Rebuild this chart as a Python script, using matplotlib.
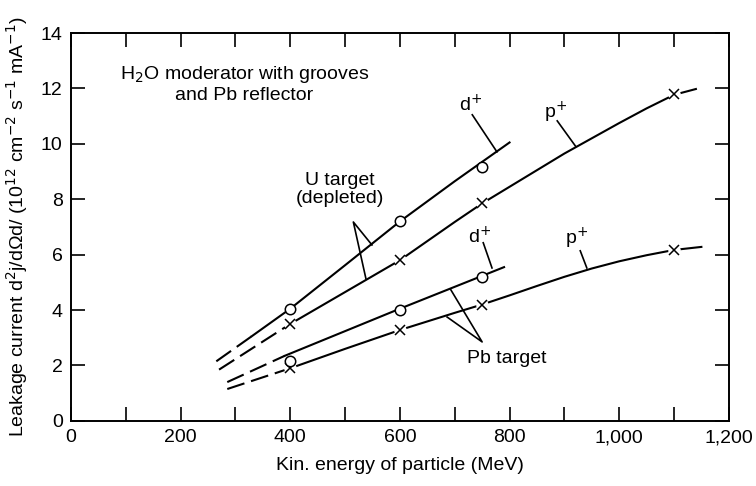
import matplotlib
matplotlib.use("Agg")
from matplotlib import pyplot as plt
from matplotlib.ticker import MultipleLocator, FuncFormatter

plt.rcParams['font.family'] = ['Liberation Sans', 'DejaVu Sans']
plt.rcParams['lines.scale_dashes'] = False

# Measured points (MeV, 10^12 cm^-2 s^-1 mA^-1)
u_d_x = [400, 600, 750]
u_d_y = [4.05, 7.2, 9.15]
u_p_x = [400, 600, 750, 1100]
u_p_y = [3.5, 5.8, 7.85, 11.8]
pb_d_x = [400, 600, 750]
pb_d_y = [2.15, 4.0, 5.18]
pb_p_x = [400, 600, 750, 1100]
pb_p_y = [1.9, 3.28, 4.2, 6.18]

# Drawn curves (solid part)
u_d_curve_x = [330, 400, 500, 600, 700, 800]
u_d_curve_y = [3.06, 4.05, 5.62, 7.2, 8.65, 10.05]
u_p_curve_x = [400, 500, 600, 700, 750, 800, 850, 900, 950, 1000, 1050, 1100, 1140]
u_p_curve_y = [3.5, 4.65, 5.8, 7.18, 7.85, 8.45, 9.05, 9.65, 10.2, 10.75, 11.28, 11.77, 11.98]
pb_d_curve_x = [390, 600, 790]
pb_d_curve_y = [2.35, 4.05, 5.55]
pb_p_curve_x = [400, 500, 600, 700, 750, 800, 850, 900, 950, 1000, 1050, 1100, 1150]
pb_p_curve_y = [1.9, 2.6, 3.28, 3.9, 4.2, 4.53, 4.87, 5.2, 5.5, 5.76, 5.98, 6.17, 6.28]

# Extrapolated (dashed) parts
u_d_dash_x = [265, 330]
u_d_dash_y = [2.15, 3.06]
u_p_dash_x = [270, 400]
u_p_dash_y = [1.85, 3.5]
pb_d_dash_x = [285, 390]
pb_d_dash_y = [1.4, 2.35]
pb_p_dash_x = [285, 400]
pb_p_dash_y = [1.15, 1.9]

fig = plt.figure(figsize=(7.56, 4.86), dpi=100)
ax = fig.add_axes([0.094, 0.134, 0.870, 0.798])

lw = 1.5
for cx, cy in [(u_d_curve_x, u_d_curve_y), (u_p_curve_x, u_p_curve_y),
               (pb_d_curve_x, pb_d_curve_y), (pb_p_curve_x, pb_p_curve_y)]:
    ax.plot(cx, cy, color='black', lw=lw, zorder=2)
for dx, dy in [(u_d_dash_x, u_d_dash_y), (u_p_dash_x, u_p_dash_y),
               (pb_d_dash_x, pb_d_dash_y), (pb_p_dash_x, pb_p_dash_y)]:
    ax.plot(dx, dy, color='black', lw=lw, dashes=[13, 5], zorder=2)

# markers: white patch under the crosses so they break the line
for mx, my in [(u_p_x, u_p_y), (pb_p_x, pb_p_y)]:
    ax.plot(mx, my, ls='none', marker='o', ms=9, mfc='white', mec='none', zorder=3)
    ax.plot(mx, my, ls='none', marker='x', ms=6.5, mew=1.1, color='black', zorder=4)
for mx, my in [(u_d_x, u_d_y), (pb_d_x, pb_d_y)]:
    ax.plot(mx, my, ls='none', marker='o', ms=7.5, mfc='white', mec='black', mew=1.1, zorder=4)

fs = 14
# labels with leader lines
ax.text(728, 11.4, 'd$^{+}$', ha='center', va='center', fontsize=fs)
ax.plot([732, 777], [11.05, 9.71], color='black', lw=1.2)
ax.text(883, 11.15, 'p$^{+}$', ha='center', va='center', fontsize=fs)
ax.plot([887, 921], [10.83, 9.9], color='black', lw=1.2)
ax.text(746, 6.65, 'd$^{+}$', ha='center', va='center', fontsize=fs)
ax.plot([752, 768], [6.43, 5.52], color='black', lw=1.2)
ax.text(923, 6.6, 'p$^{+}$', ha='center', va='center', fontsize=fs)
ax.plot([929, 941], [6.14, 5.52], color='black', lw=1.2)

ax.text(491, 8.35, 'U target\n(depleted)', ha='center', va='center', fontsize=fs, linespacing=1.1)
ax.plot([549, 515, 538], [6.35, 7.18, 5.13], color='black', lw=1.2)
ax.text(795, 2.24, 'Pb target', ha='center', va='center', fontsize=fs)
ax.plot([692, 750, 686], [4.76, 2.85, 3.75], color='black', lw=1.2)

ax.text(316, 12.15, 'H$_2$O moderator with grooves\nand Pb reflector', ha='center',
        va='center', fontsize=fs, linespacing=1.15)

ax.set_xlim(0, 1200)
ax.set_ylim(0, 14)
ax.xaxis.set_major_locator(MultipleLocator(200))
ax.xaxis.set_minor_locator(MultipleLocator(100))
ax.yaxis.set_major_locator(MultipleLocator(2))
ax.xaxis.set_major_formatter(FuncFormatter(lambda v, p: f'{int(v):,}'))
ax.tick_params(which='both', direction='in', length=10, width=1.2,
               top=True, right=True, labelsize=fs, pad=6)
for s in ax.spines.values():
    s.set_linewidth(1.4)

ax.set_xlabel('Kin. energy of particle (MeV)', fontsize=fs, labelpad=8)
ax.set_ylabel('Leakage current d$^2$j/d\u03a9d/ (10$^{12}$ cm$^{-2}$ s$^{-1}$ mA$^{-1}$)',
              fontsize=fs, labelpad=8)

fig.savefig('out.png', dpi=100)
